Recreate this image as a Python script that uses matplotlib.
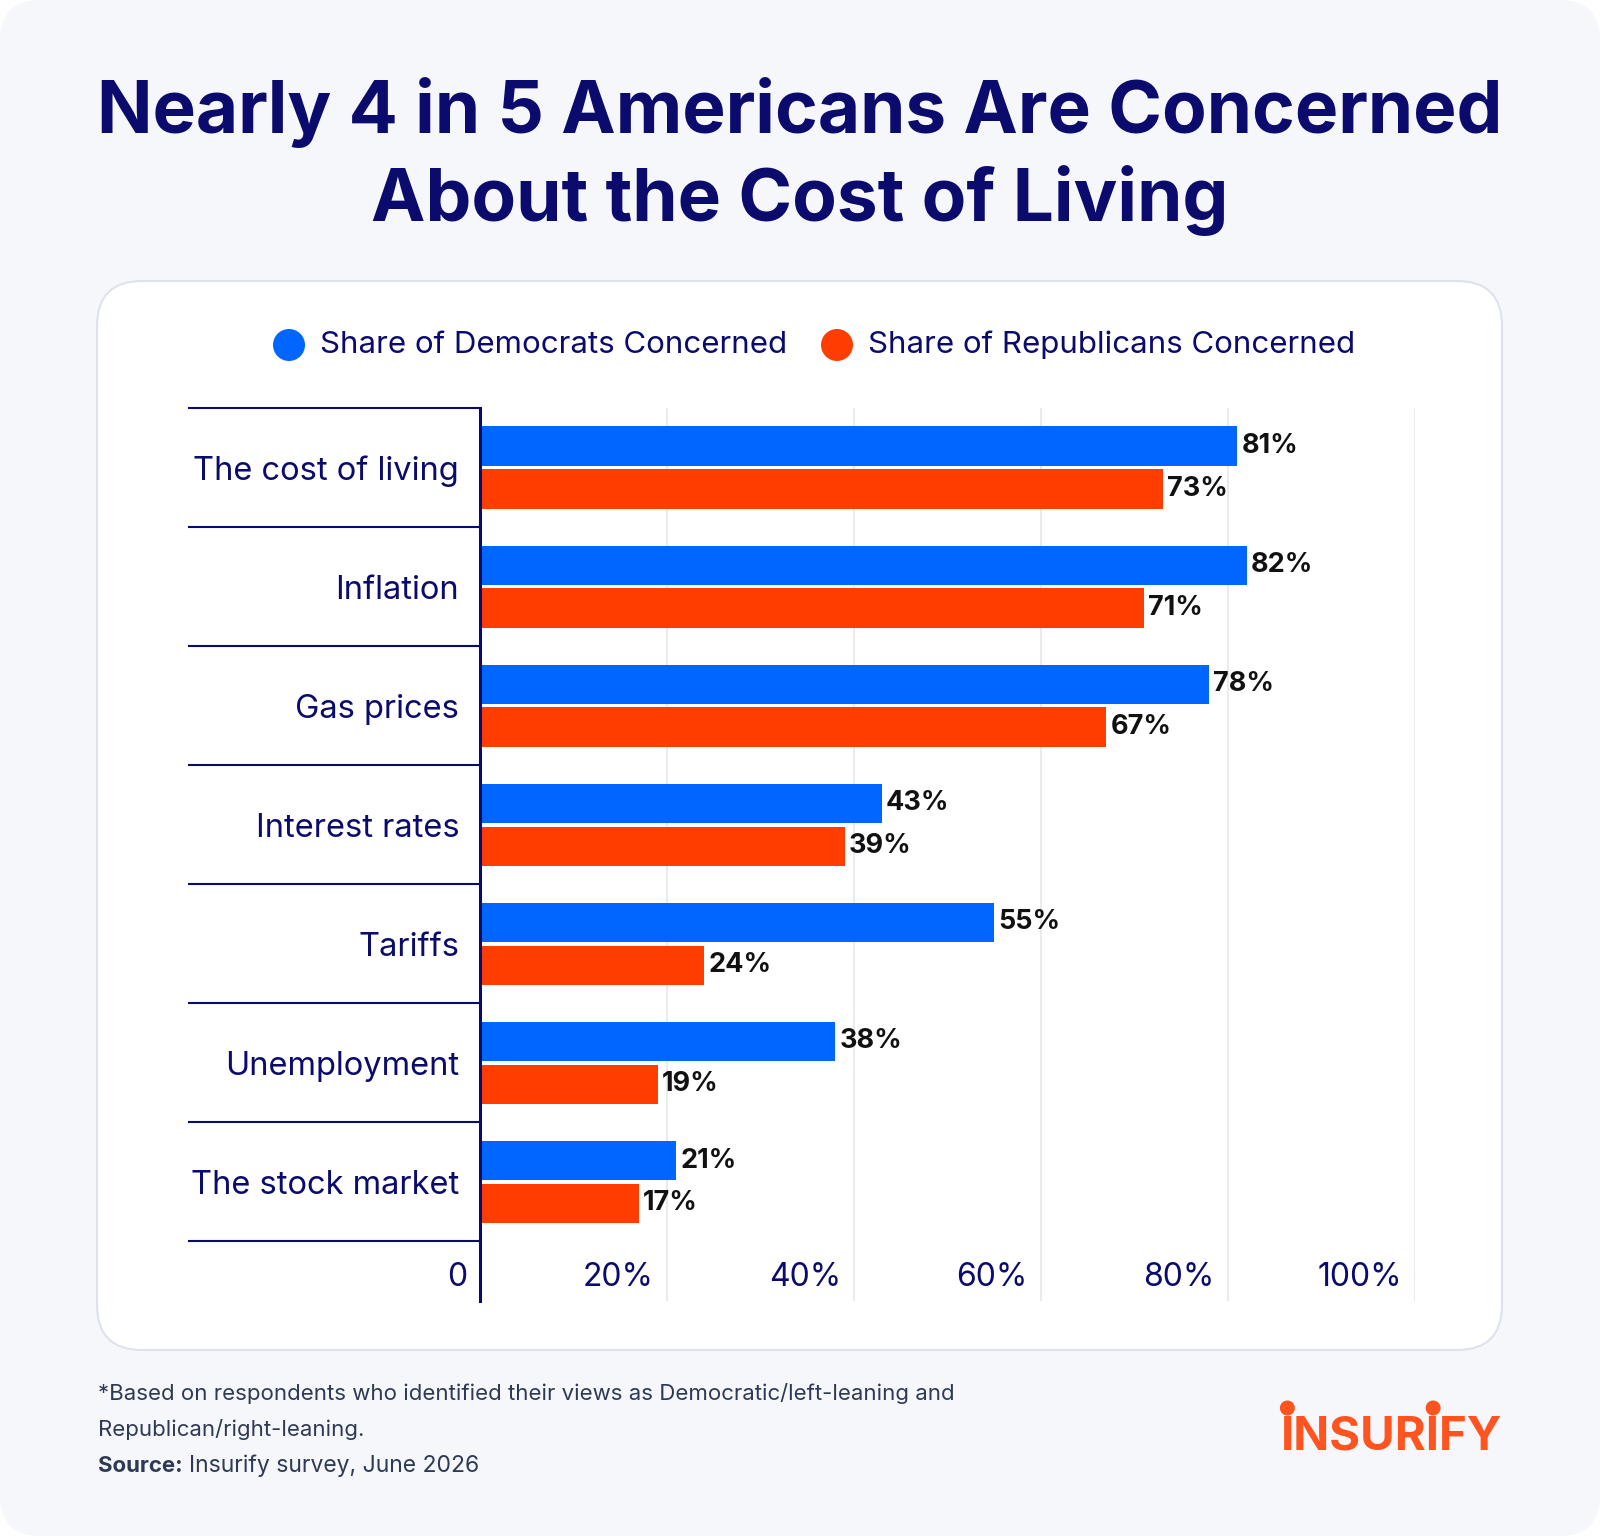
import matplotlib
matplotlib.use('Agg')
import matplotlib.pyplot as plt
import matplotlib.transforms as mtransforms
from matplotlib.patches import FancyBboxPatch, Circle
import numpy as np

plt.rcParams['font.family'] = ['Inter', 'DejaVu Sans']

# colours
NAVY = '#0B0B6E'
BLUE = '#0066FF'
ORANGE = '#FF3D00'
BG = '#F6F7FB'
GRID = '#E9EBF1'
FOOT = '#2E3A55'
LOGO = '#FF5320'

# data
categories = ['The cost of living', 'Inflation', 'Gas prices', 'Interest rates',
              'Tariffs', 'Unemployment', 'The stock market']
democrats = [81, 82, 78, 43, 55, 38, 21]
republicans = [73, 71, 67, 39, 24, 19, 17]
x_ticks = [0, 20, 40, 60, 80, 100]
x_tick_labels = ['0', '20%', '40%', '60%', '80%', '100%']
legend_labels = ['Share of Democrats Concerned', 'Share of Republicans Concerned']

W, H = 1600, 1536
fig = plt.figure(figsize=(W / 100, H / 100), dpi=100, facecolor='white')

# background layer in pixel coords
bg = fig.add_axes([0, 0, 1, 1])
bg.set_xlim(0, W)
bg.set_ylim(H, 0)
bg.axis('off')
bg.add_patch(FancyBboxPatch((0, 0), W, H, boxstyle='round,pad=0,rounding_size=40',
                            facecolor=BG, edgecolor='none'))
bg.add_patch(FancyBboxPatch((97, 281), 1405, 1069, boxstyle='round,pad=0,rounding_size=45',
                            facecolor='white', edgecolor='#DDE3EE', linewidth=1.5))

# title
bg.text(800, 112, 'Nearly 4 in 5 Americans Are Concerned', ha='center', va='center',
        fontsize=52.5, fontweight='bold', color=NAVY)
bg.text(800, 200, 'About the Cost of Living', ha='center', va='center',
        fontsize=52.5, fontweight='bold', color=NAVY)

# legend
for cx, col, lab in [(289, BLUE, legend_labels[0]), (837, ORANGE, legend_labels[1])]:
    bg.add_patch(Circle((cx, 345), 16, facecolor=col, edgecolor='none'))
    bg.text(cx + 31, 345, lab, ha='left', va='center', fontsize=22.5, color=NAVY)

# footer
bg.text(98, 1394, '*Based on respondents who identified their views as Democratic/left-leaning and',
        ha='left', va='center', fontsize=16, color=FOOT)
bg.text(98, 1429, 'Republican/right-leaning.', ha='left', va='center', fontsize=16, color=FOOT)
src = bg.text(98, 1466, 'Source:', ha='left', va='center', fontsize=16, color=FOOT,
              fontweight='bold')
fig.canvas.draw()
r = fig.canvas.get_renderer()
bb = src.get_window_extent(r)
bg.text(98 + bb.width + 6, 1466, 'Insurify survey, June 2026', ha='left', va='center',
        fontsize=16.5, color=FOOT)

# logo
logo = bg.text(1502, 1438, 'INSURIFY', ha='right', va='center', fontsize=34,
               fontweight='bold', color=LOGO)
fig.canvas.draw()
lb = logo.get_window_extent(r)
inv = bg.transData.inverted()
(lx0, ly0), (lx1, ly1) = inv.transform([(lb.x0, lb.y0), (lb.x1, lb.y1)])
full_w = lb.width
for idx in [0, 5]:
    t1 = bg.text(0, 0, 'INSURIFY'[:idx], fontsize=34, fontweight='bold')
    t2 = bg.text(0, 0, 'INSURIFY'[:idx + 1], fontsize=34, fontweight='bold')
    fig.canvas.draw()
    w1 = t1.get_window_extent(r).width if idx else 0
    w2 = t2.get_window_extent(r).width
    t1.remove(); t2.remove()
    cx = lx0 + (w1 + w2) / 2 * (lx1 - lx0) / full_w
    bg.add_patch(Circle((cx, 1408), 7.5, facecolor=LOGO, edgecolor='none'))

# chart axes
left, right = 480, 1415
top, bottom = 408, 1301
ax = fig.add_axes([left / W, 1 - bottom / H, (right - left) / W, (bottom - top) / H])
ax.patch.set_alpha(0)
ax.set_xlim(0, 100)
ax.set_ylim(7.0, -0.5)

y = np.arange(len(categories))
ax.barh(y - 0.18, democrats, height=0.33, color=BLUE, zorder=3)
ax.barh(y + 0.18, republicans, height=0.33, color=ORANGE, zorder=3)

lab_off = mtransforms.offset_copy(ax.transData, fig=fig, x=4, y=0, units='dots')
for yi, d, rp in zip(y, democrats, republicans):
    ax.text(d, yi - 0.18, f'{d}%', transform=lab_off, ha='left', va='center',
            fontsize=19.5, fontweight='bold', color='#111111', zorder=4)
    ax.text(rp, yi + 0.18, f'{rp}%', transform=lab_off, ha='left', va='center',
            fontsize=19.5, fontweight='bold', color='#111111', zorder=4)

for xt in x_ticks[1:]:
    ax.axvline(xt, color=GRID, linewidth=1.5, zorder=1)

tick_off = mtransforms.offset_copy(ax.transData, fig=fig, x=-13, y=0, units='dots')
for xt, xl in zip(x_ticks, x_tick_labels):
    ax.text(xt, 6.8, xl, transform=tick_off, ha='right', va='center',
            fontsize=23, color=NAVY)

# category separators
sep_tr = mtransforms.blended_transform_factory(ax.transAxes, ax.transData)
x_start = (188 - left) / (right - left)
for k in range(len(categories) + 1):
    ax.plot([x_start, 0], [k - 0.5, k - 0.5], transform=sep_tr, color=NAVY,
            linewidth=1.5, clip_on=False, solid_capstyle='butt')

ax.set_yticks(y)
ax.set_yticklabels(categories, fontsize=23.5, color=NAVY)
ax.tick_params(axis='y', length=0, pad=15)
ax.set_xticks([])
for s in ['top', 'right', 'bottom']:
    ax.spines[s].set_visible(False)
ax.spines['left'].set_color(NAVY)
ax.spines['left'].set_linewidth(2.2)
ax.spines['left'].set_zorder(5)

fig.savefig('out.png', dpi=100, facecolor='white')
